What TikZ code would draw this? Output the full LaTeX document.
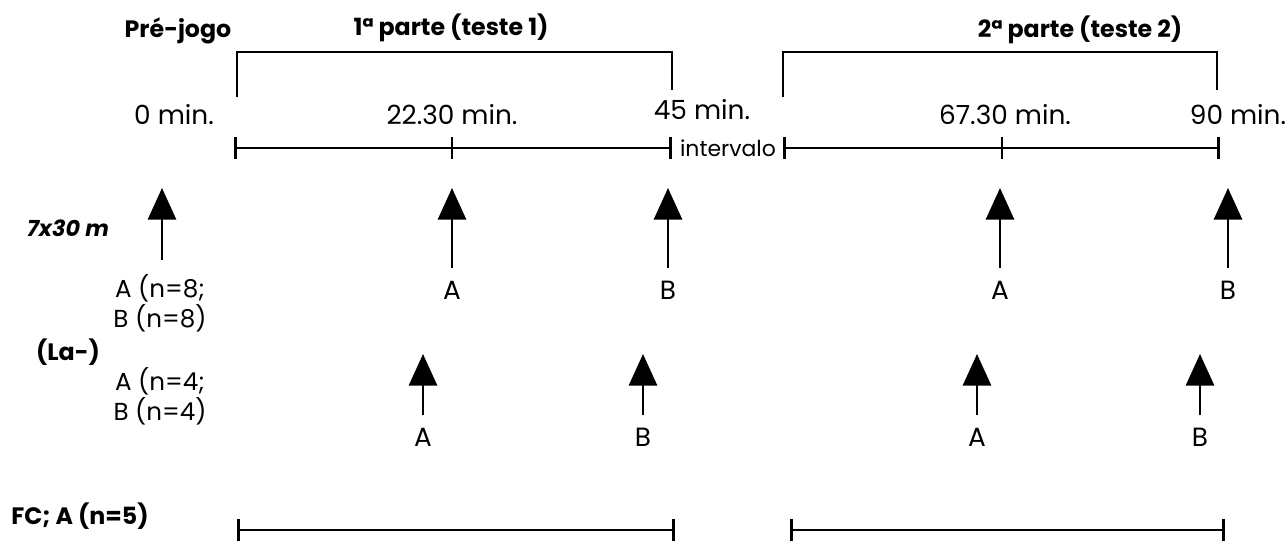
\documentclass[tikz,border=0pt]{standalone}
\usepackage{fontspec}
\setmainfont{Poppins}
\usetikzlibrary{arrows.meta}
\tikzset{
  lbl/.style={font=\fontsize{14}{17}\selectfont},
  time/.style={font=\fontsize{15}{18}\selectfont},
  mark lbl/.style={font=\fontsize{15}{18}\selectfont, inner sep=7pt},
  hdr/.style={font=\fontsize{13.5}{16}\selectfont\bfseries},
  pf/.style={line width=1.5pt, -{Triangle[width=16pt,length=18pt]}},
  span/.style={line width=1.5pt, {Bar[width=12pt]}-{Bar[width=12pt]}},
  brk/.style={line width=1.5pt},
}
\begin{document}
\begin{tikzpicture}[x=0.02cm, y=-0.02cm]
  \useasboundingbox (0,0) rectangle (1286,547);
  % headings and brackets
  \node[hdr] (pre) at (178,31) {Pré-jogo};
  \node[hdr] (part1) at (451,28) {1ª parte (teste 1)};
  \node[hdr] (part2) at (1080,30) {2ª parte (teste 2)};
  \draw[brk] (237,97) |- (672,52) -- (672,90);
  \draw[brk] (783,97) |- (1217,52) -- (1217,90);
  % time line
  \foreach \x/\y/\t/\n in {174/115/0 min./t0, 452/115/22.30 min./t1,
      702/110/45 min./t2, 1005/115/67.30 min./t3, 1238/115/90 min./t4}
    \node[time] (\n) at (\x,\y) {\t};
  \coordinate (m0) at (234,148);
  \coordinate (m45) at (672,148);
  \coordinate (m46) at (783,148);
  \coordinate (m90) at (1220,148);
  \draw[span] (m0) -- (m45);
  \draw[span] (m46) -- (m90);
  \draw[brk] (452,137) -- (452,159);
  \draw[brk] (1002,137) -- (1002,159);
  \node[font=\fontsize{12.5}{15}\selectfont] (interv) at (728,148) {intervalo};
  % 7x30 m
  \node[font=\fontsize{12.7}{15}\selectfont\bfseries\itshape] (sprint) at (68,228) {7x30 m};
  \node[lbl, inner sep=8pt, align=center] (s0) at (160,303) {A (n=8;\\B (n=8)};
  \coordinate (hs0) at (162,188);
  \draw[pf] (s0.north -| hs0) -- (hs0);
  \foreach \x/\l/\n in {452/A/s1, 668/B/s2, 1000/A/s3, 1228/B/s4} {
    \node[mark lbl] (\n) at (\x,290) {\l};
    \coordinate (h\n) at (\x,188);
    \draw[pf] (\n) -- (h\n);
  }
  % (La-)
  \node[hdr] (lac) at (68,352) {(La-)};
  \node[lbl, align=center] (l0) at (160,396) {A (n=4;\\B (n=4)};
  \foreach \x/\l/\n in {423/A/l1, 643/B/l2, 977/A/l3, 1200/B/l4} {
    \node[mark lbl] (\n) at (\x,437) {\l};
    \coordinate (h\n) at (\x,354);
    \draw[pf] (\n) -- (h\n);
  }
  % FC
  \node[hdr] (fc) at (80,516) {FC; A (n=5)};
  \draw[span] (237,530) -- (675,530);
  \draw[span] (790,530) -- (1225,530);
\end{tikzpicture}
\end{document}
